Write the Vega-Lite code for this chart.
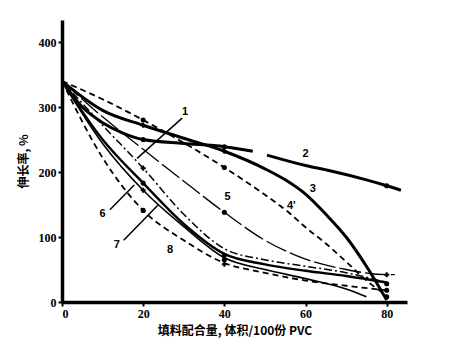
{
  "$schema": "https://vega.github.io/schema/vega-lite/v6.json",
  "width": 345,
  "height": 282,
  "autosize": {"type": "none"},
  "padding": {"left": 62, "top": 20, "right": 43, "bottom": 50},
  "background": "white",
  "config": {
    "view": {"stroke": null},
    "axis": {"grid": false, "domainColor": "black", "domainWidth": 3.5, "tickColor": "black", "tickWidth": 2, "tickSize": 4,
      "labelFont": "Liberation Sans Narrow", "labelFontWeight": "bold", "labelFontSize": 12, "labelColor": "black",
      "titleFont": "Noto Sans CJK SC", "titleFontWeight": "bold", "titleFontSize": 12, "titleColor": "black"}
  },
  "datasets": {
    "curves": [
      {"c": "1", "x": 0, "y": 340}, {"c": "1", "x": 10, "y": 272}, {"c": "1", "x": 20, "y": 206}, {"c": "1", "x": 30, "y": 135}, {"c": "1", "x": 40, "y": 82}, {"c": "1", "x": 50, "y": 65}, {"c": "1", "x": 60, "y": 55}, {"c": "1", "x": 70, "y": 45}, {"c": "1", "x": 80, "y": 30},
      {"c": "2a", "x": 0, "y": 340}, {"c": "2a", "x": 5, "y": 300}, {"c": "2a", "x": 10, "y": 276}, {"c": "2a", "x": 15, "y": 260}, {"c": "2a", "x": 20, "y": 250}, {"c": "2a", "x": 30, "y": 244}, {"c": "2a", "x": 40, "y": 239}, {"c": "2a", "x": 47, "y": 232},
      {"c": "2b", "x": 50.5, "y": 226}, {"c": "2b", "x": 60, "y": 210}, {"c": "2b", "x": 66, "y": 202}, {"c": "2b", "x": 75, "y": 188}, {"c": "2b", "x": 80, "y": 179}, {"c": "2b", "x": 83.5, "y": 172},
      {"c": "3", "x": 0, "y": 340}, {"c": "3", "x": 10, "y": 295}, {"c": "3", "x": 20, "y": 272}, {"c": "3", "x": 30, "y": 252}, {"c": "3", "x": 40, "y": 232}, {"c": "3", "x": 50, "y": 205}, {"c": "3", "x": 55, "y": 188}, {"c": "3", "x": 60, "y": 166}, {"c": "3", "x": 65, "y": 135}, {"c": "3", "x": 70, "y": 100}, {"c": "3", "x": 75, "y": 55}, {"c": "3", "x": 80, "y": 3},
      {"c": "4'", "x": 0, "y": 340}, {"c": "4'", "x": 10, "y": 312}, {"c": "4'", "x": 20, "y": 280}, {"c": "4'", "x": 30, "y": 245}, {"c": "4'", "x": 40, "y": 207}, {"c": "4'", "x": 50, "y": 165}, {"c": "4'", "x": 56, "y": 137}, {"c": "4'", "x": 60, "y": 115}, {"c": "4'", "x": 65, "y": 90}, {"c": "4'", "x": 70, "y": 62}, {"c": "4'", "x": 75, "y": 33}, {"c": "4'", "x": 80, "y": 10},
      {"c": "5", "x": 0, "y": 340}, {"c": "5", "x": 10, "y": 285}, {"c": "5", "x": 20, "y": 235}, {"c": "5", "x": 30, "y": 186}, {"c": "5", "x": 40, "y": 138}, {"c": "5", "x": 50, "y": 95}, {"c": "5", "x": 60, "y": 66}, {"c": "5", "x": 70, "y": 50}, {"c": "5", "x": 80, "y": 42}, {"c": "5", "x": 82, "y": 42},
      {"c": "6", "x": 0, "y": 340}, {"c": "6", "x": 10, "y": 250}, {"c": "6", "x": 20, "y": 183}, {"c": "6", "x": 30, "y": 120}, {"c": "6", "x": 40, "y": 74}, {"c": "6", "x": 50, "y": 58}, {"c": "6", "x": 60, "y": 48}, {"c": "6", "x": 70, "y": 40}, {"c": "6", "x": 80, "y": 30},
      {"c": "7", "x": 0, "y": 340}, {"c": "7", "x": 10, "y": 244}, {"c": "7", "x": 20, "y": 172}, {"c": "7", "x": 30, "y": 116}, {"c": "7", "x": 40, "y": 68}, {"c": "7", "x": 50, "y": 50}, {"c": "7", "x": 60, "y": 36}, {"c": "7", "x": 70, "y": 20}, {"c": "7", "x": 75, "y": 8},
      {"c": "8", "x": 0, "y": 340}, {"c": "8", "x": 10, "y": 222}, {"c": "8", "x": 20, "y": 141}, {"c": "8", "x": 30, "y": 95}, {"c": "8", "x": 40, "y": 60}, {"c": "8", "x": 50, "y": 45}, {"c": "8", "x": 60, "y": 33}, {"c": "8", "x": 70, "y": 25}, {"c": "8", "x": 80, "y": 18}
    ],
    "marks": [
      {"s": "dot", "x": 20, "y": 280}, {"s": "dot", "x": 40, "y": 207},
      {"s": "cross", "x": 20, "y": 272}, {"s": "cross", "x": 40, "y": 232},
      {"s": "dot", "x": 20, "y": 250}, {"s": "dot", "x": 40, "y": 239}, {"s": "dot", "x": 80, "y": 179},
      {"s": "cross", "x": 20, "y": 206},
      {"s": "dot", "x": 40, "y": 138}, {"s": "cross", "x": 80, "y": 42},
      {"s": "dot", "x": 20, "y": 183}, {"s": "cross", "x": 20, "y": 172}, {"s": "dot", "x": 20, "y": 141},
      {"s": "dot", "x": 40, "y": 72}, {"s": "dot", "x": 40, "y": 65}, {"s": "cross", "x": 40, "y": 58},
      {"s": "dot", "x": 80, "y": 28}, {"s": "dot", "x": 80, "y": 18}, {"s": "dot", "x": 80, "y": 8}
    ],
    "labels": [
      {"t": "1", "x": 30.3, "y": 292}, {"t": "2", "x": 60, "y": 228}, {"t": "3", "x": 61.8, "y": 174},
      {"t": "4'", "x": 56.5, "y": 148}, {"t": "5", "x": 40.8, "y": 162}, {"t": "6", "x": 10, "y": 136},
      {"t": "7", "x": 13.5, "y": 87}, {"t": "8", "x": 26.6, "y": 80}
    ],
    "leaders": [
      {"x": 29.6, "y": 283, "x2": 18.5, "y2": 221},
      {"x": 11.8, "y": 142, "x2": 17.8, "y2": 180},
      {"x": 15.2, "y": 95, "x2": 23.6, "y2": 149}
    ]
  },
  "encoding": {
    "x": {"field": "x", "type": "quantitative", "scale": {"domain": [0, 85], "nice": false},
      "axis": {"values": [0, 20, 40, 60, 80], "title": "填料配合量, 体积/100份 PVC", "titlePadding": 6}},
    "y": {"field": "y", "type": "quantitative", "scale": {"domain": [0, 434], "nice": false},
      "axis": {"values": [0, 100, 200, 300, 400], "title": "伸长率, %", "titlePadding": 8}}
  },
  "layer": [
    {
      "data": {"name": "curves"},
      "transform": [{"filter": "datum.c == '2a' || datum.c == '2b' || datum.c == '3'"}],
      "mark": {"type": "line", "interpolate": "monotone", "color": "black", "strokeWidth": 3},
      "encoding": {"detail": {"field": "c"}}
    },
    {
      "data": {"name": "curves"},
      "transform": [{"filter": "datum.c == '6'"}],
      "mark": {"type": "line", "interpolate": "monotone", "color": "black", "strokeWidth": 2.4},
      "encoding": {"detail": {"field": "c"}}
    },
    {
      "data": {"name": "curves"},
      "transform": [{"filter": "datum.c == '7'"}],
      "mark": {"type": "line", "interpolate": "monotone", "color": "black", "strokeWidth": 1.6},
      "encoding": {"detail": {"field": "c"}}
    },
    {
      "data": {"name": "curves"},
      "transform": [{"filter": "datum.c == '1'"}],
      "mark": {"type": "line", "interpolate": "monotone", "color": "black", "strokeWidth": 1.5, "strokeDash": [8, 3, 2, 3]},
      "encoding": {"detail": {"field": "c"}}
    },
    {
      "data": {"name": "curves"},
      "transform": [{"filter": "datum.c == '4\\'' || datum.c == '8'"}],
      "mark": {"type": "line", "interpolate": "monotone", "color": "black", "strokeWidth": 1.8, "strokeDash": [6, 4]},
      "encoding": {"detail": {"field": "c"}}
    },
    {
      "data": {"name": "curves"},
      "transform": [{"filter": "datum.c == '5'"}],
      "mark": {"type": "line", "interpolate": "monotone", "color": "black", "strokeWidth": 1.3, "strokeDash": [22, 4]},
      "encoding": {"detail": {"field": "c"}}
    },
    {
      "data": {"name": "marks"},
      "mark": {"type": "point", "filled": true, "color": "black", "opacity": 1, "size": 26},
      "encoding": {
        "shape": {"field": "s", "type": "nominal", "legend": null,
          "scale": {"domain": ["dot", "cross"], "range": ["circle", "cross"]}}
      }
    },
    {
      "data": {"name": "leaders"},
      "mark": {"type": "rule", "color": "black", "strokeWidth": 1.5},
      "encoding": {
        "x2": {"field": "x2"},
        "y2": {"field": "y2"}
      }
    },
    {
      "data": {"name": "labels"},
      "mark": {"type": "text", "font": "Liberation Sans", "fontWeight": "bold", "fontSize": 11, "color": "black"},
      "encoding": {
        "text": {"field": "t"}
      }
    }
  ]
}
